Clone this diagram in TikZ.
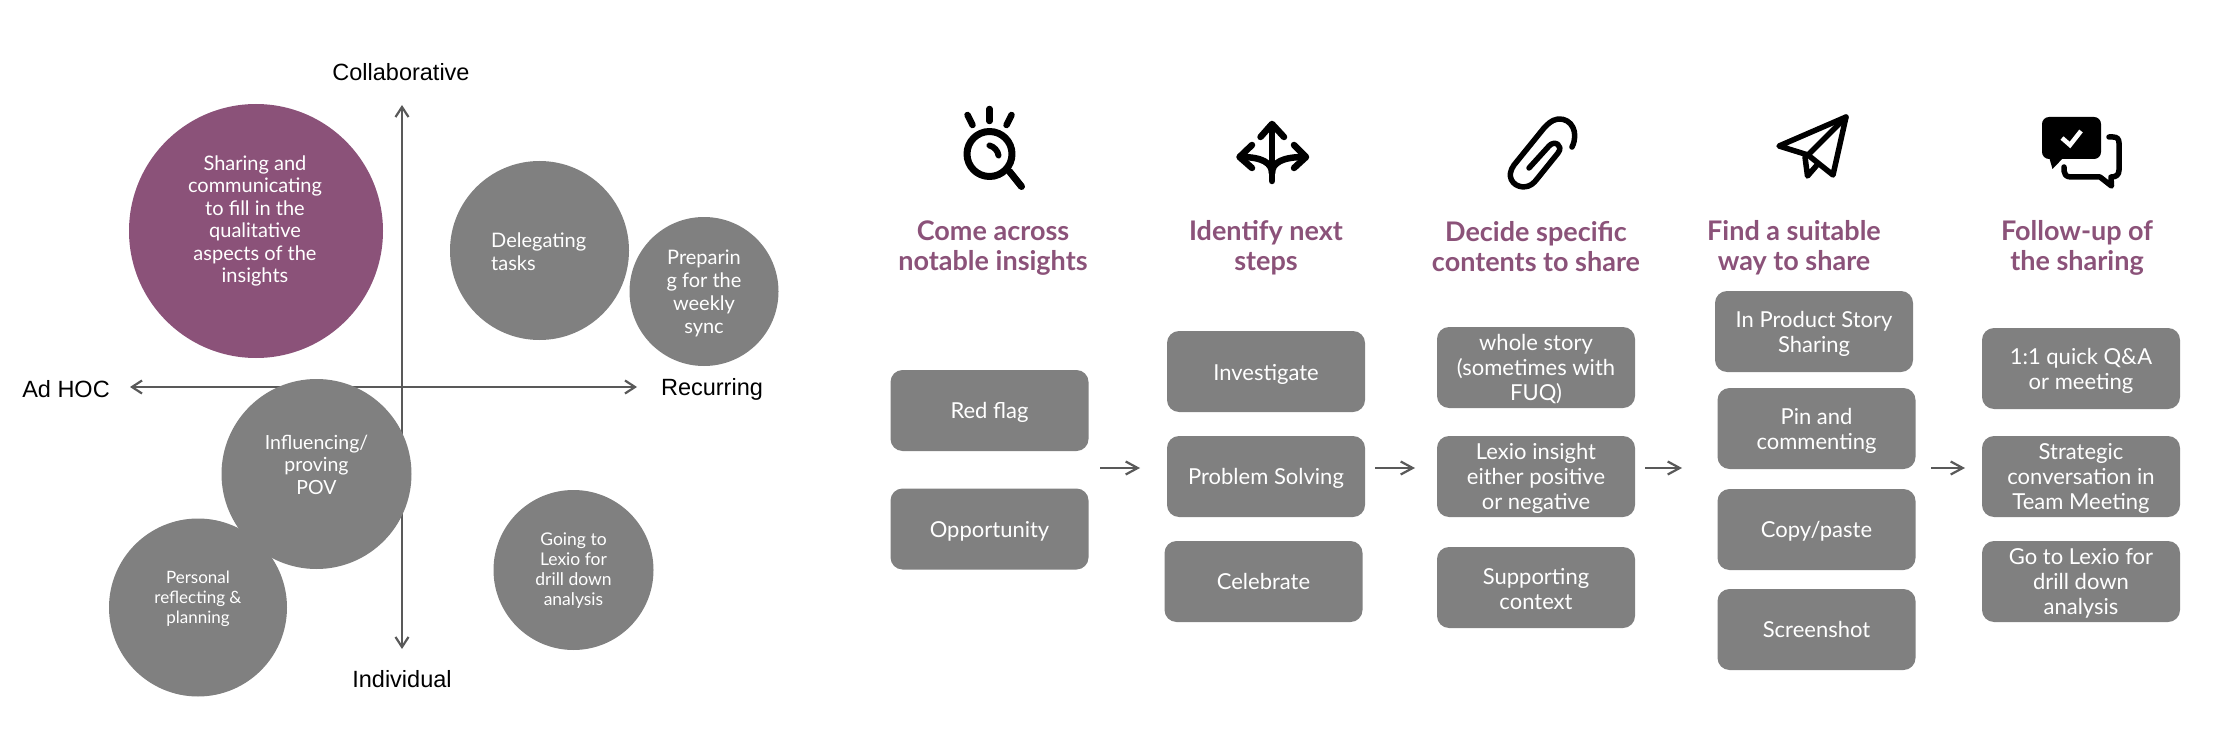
\documentclass[tikz,border=0pt]{standalone}
\usepackage{fontspec}
\setmainfont{Lato}
\newfontfamily\axisfont{Liberation Sans}
\usetikzlibrary{arrows.meta}
\definecolor{plum}{HTML}{8B5279}
\definecolor{boxgrey}{HTML}{808080}
\definecolor{linegrey}{HTML}{595959}
\tikzset{
  bubble/.style={circle,fill=#1,draw=none,inner sep=0pt},
  bubbletext/.style 2 args={text=white,align=center,inner sep=0pt,font=\fontsize{#1}{#2}\selectfont},
  card/.style={rectangle,fill=boxgrey,rounded corners=12pt,minimum width=198pt,minimum height=81pt,
    inner sep=0pt,text=white,align=center,font=\fontsize{22}{25}\selectfont,text depth=0pt},
  cardtext/.style={text=white,align=center,inner sep=0pt,font=\fontsize{22}{25}\selectfont},
  headline/.style={text=plum,align=center,inner sep=0pt,font=\fontsize{27}{30}\selectfont\bfseries},
  axislabel/.style={text=black,inner sep=0pt,font=\axisfont\fontsize{23.5}{26}\selectfont},
  axisline/.style={draw=linegrey,line width=2.2pt,{Straight Barb[length=10pt,width=13pt]}-{Straight Barb[length=10pt,width=13pt]}},
  flow/.style={draw=linegrey,line width=2.2pt,-{Straight Barb[length=12pt,width=13pt]}},
  icon/.style={draw=black,line width=#1,line cap=round,line join=round,fill=none},
}
\newcommand{\cardbox}[4]{%
  \node[card] (#1) at (#2,#3) {};
  \node[cardtext] (#1t) at (#2,#3+2) {#4};
}
\begin{document}
\begin{tikzpicture}[x=1pt,y=-1pt]
\useasboundingbox (0,0) rectangle (2231,749);
% axes
\coordinate (axT) at (402,105);
\coordinate (axB) at (402,649);
\coordinate (axL) at (130,387);
\coordinate (axR) at (637,387);
\draw[axisline] (axT) -- (axB);
\draw[axisline] (axL) -- (axR);
\node[axislabel] (lC) at (401,72) {Collaborative};
\node[axislabel] (lA) at (66,389) {Ad HOC};
\node[axislabel] (lR) at (712,389.5) {Recurring};
\node[axislabel] (lI) at (402,679) {Individual};
% bubbles
\node[bubble=plum,minimum size=254pt] (c1) at (256,231) {};
\node[bubble=boxgrey,minimum size=179pt] (c2) at (539.5,250.5) {};
\node[bubble=boxgrey,minimum size=149pt] (c3) at (704,291.5) {};
\node[bubble=boxgrey,minimum size=190pt] (c4) at (316.5,474) {};
\node[bubble=boxgrey,minimum size=178pt] (c5) at (198,607.5) {};
\node[bubble=boxgrey,minimum size=160pt] (c6) at (573.5,570) {};
\node[bubbletext={20}{22.5}] (t1) at (255,221) {Sharing and\\ communicating\\ to fill in the\\ qualitative\\ aspects of the\\ insights};
\node[bubbletext={20}{23},align=left,anchor=west] (t2) at (491,252) {Delegating\\ tasks};
\node[bubbletext={20}{22.8}] (t3) at (704,293.5) {Preparin\\ g for the\\ weekly\\ sync};
\node[bubbletext={19.5}{22.5}] (t4) at (316.5,464.5) {Influencing/\\ proving\\ POV};
\node[bubbletext={17}{20}] (t5) at (198,598.5) {Personal\\ reflecting \&\\ planning};
\node[bubbletext={17.5}{20}] (t6) at (573.5,571) {Going to\\ Lexio for\\ drill down\\ analysis};
% icons: magnifier
\draw[icon=7pt] (989.5,154) circle (22.5pt);
\draw[icon=6.5pt] (989.5,109) -- (989.5,121);
\draw[icon=6.5pt] (967.5,115) -- (972.5,125);
\draw[icon=6.5pt] (1011.5,115) -- (1006.5,125);
\draw[icon=7pt] (1009.5,171.5) -- (1021.5,186.5);
\draw[icon=6pt] (989.5,145.5) .. controls (994,146.5) and (998,151) .. (998.5,155.5);
% icons: three-way arrows
\draw[icon=6.5pt] (1272,125) -- (1272,181);
\draw[icon=6.5pt] (1260.5,137) -- (1272,124) -- (1284,137);
\draw[icon=6.5pt] (1272,173) .. controls (1272,163) and (1262,157) .. (1241,157);
\draw[icon=6.5pt] (1272,173) .. controls (1272,163) and (1282,157) .. (1304,157);
\draw[icon=6.5pt] (1252,145) -- (1239.5,157) -- (1252,168);
\draw[icon=6.5pt] (1294,145) -- (1306,157) -- (1294,168);
% icons: paper clip
\draw[icon=5.5pt] (1572,147) .. controls (1579,133) and (1572,118) .. (1558,119)
  .. controls (1551,120) and (1547,125) .. (1544,128) -- (1514,165)
  .. controls (1506,176) and (1512,186) .. (1523,187)
  .. controls (1530,187) and (1534,183) .. (1537,179) -- (1558,153)
  .. controls (1564,145) and (1554,140) .. (1549,146) -- (1529,168);
% icons: paper plane
\draw[icon=5.5pt] (1846,117) -- (1779,146) -- (1808,155) -- (1833,175) -- cycle;
\draw[icon=5.5pt] (1846,117) -- (1808,155);
\draw[icon=5.5pt] (1805,157) -- (1807.5,176) -- (1817,165);
% icons: chat
\fill[black,rounded corners=7pt] (2042,117) rectangle (2101,159);
\fill[black,line join=round] (2049,157) -- (2052.5,169) -- (2064,157) -- cycle;
\draw[draw=white,line width=4.5pt] (2062,138) -- (2070,145) -- (2081,131);
\draw[icon=5.5pt] (2109,137) -- (2113,137) .. controls (2117,137) and (2119,139) .. (2119,143)
  -- (2119,170) .. controls (2119,175) and (2116,177) .. (2111,177) -- (2111.5,186) -- (2100,177)
  -- (2071,177) .. controls (2066,177) and (2064,174) .. (2064,171) -- (2064,167);
% headings
\node[headline] (h1) at (993,248) {Come across\\ notable insights};
\node[headline] (h2) at (1266,248) {Identify next\\ steps};
\node[headline] (h3) at (1536,246.5) {Decide specific\\ contents to share};
\node[headline] (h4) at (1794,248) {Find a suitable\\ way to share};
\node[headline] (h5) at (2077,248) {Follow-up of\\ the sharing};
% cards
\cardbox{b11}{989.5}{410.5}{Red flag}
\cardbox{b12}{989.5}{529}{Opportunity}
\node[card] (b21) at (1266,371.5) {};
\node[cardtext] (b21t) at (1266,374.5) {Investigate};
\cardbox{b22}{1266}{476.5}{Problem Solving}
\cardbox{b23}{1263.5}{581.5}{Celebrate\vphantom{g}}
\cardbox{b31}{1536}{367.5}{whole story\\ (sometimes with\\ FUQ)}
\cardbox{b32}{1536}{476.5}{Lexio insight\\ either positive\\ or negative}
\cardbox{b33}{1536}{587.5}{Supporting\\ context}
\cardbox{b41}{1814}{331.5}{In Product Story\\ Sharing}
\cardbox{b42}{1816.5}{428.5}{Pin and\\ commenting}
\cardbox{b43}{1816.5}{529.5}{Copy/paste}
\cardbox{b44}{1816.5}{629.5}{Screenshot\vphantom{g}}
\cardbox{b51}{2081}{368.5}{1:1 quick Q\&A\\ or meeting}
\cardbox{b52}{2081}{476.5}{Strategic\\ conversation in\\ Team Meeting}
\cardbox{b53}{2081}{581.5}{Go to Lexio for\\ drill down\\ analysis}
% flow arrows
\coordinate (f1a) at (1100,468); \coordinate (f1b) at (1140,468);
\coordinate (f2a) at (1375,468); \coordinate (f2b) at (1415,468);
\coordinate (f3a) at (1645,468); \coordinate (f3b) at (1682,468);
\coordinate (f4a) at (1931,468); \coordinate (f4b) at (1965,468);
\draw[flow] (f1a) -- (f1b);
\draw[flow] (f2a) -- (f2b);
\draw[flow] (f3a) -- (f3b);
\draw[flow] (f4a) -- (f4b);
\end{tikzpicture}
\end{document}
